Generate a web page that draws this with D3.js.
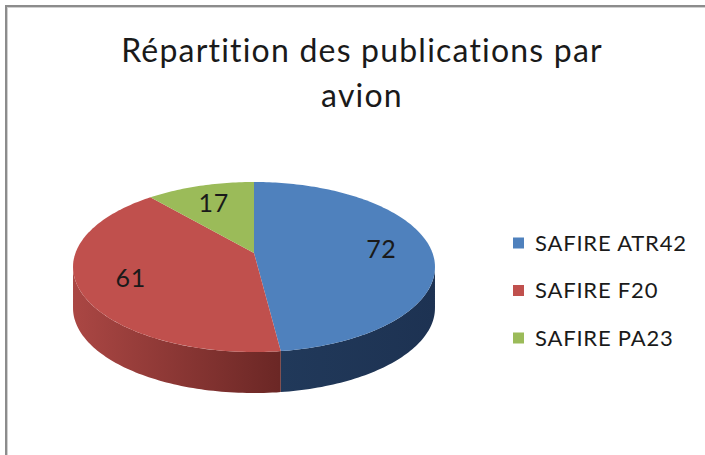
<!DOCTYPE html>
<html>
<head>
<meta charset="utf-8">
<script src="https://cdn.jsdelivr.net/npm/d3@7"></script>
<style>
  body { margin: 0; background: #fff; }
  text { font-family: Lato, "Open Sans", sans-serif; fill: #1a1a1a; }
</style>
</head>
<body>
<div id="chart"></div>
<script>
// data
var categories = ["SAFIRE ATR42", "SAFIRE F20", "SAFIRE PA23"];
var counts = [72, 61, 17];
var titleLines = ["Répartition des publications par", "avion"];

// excel 2007 palette
var topColors = ["#4f81bd", "#c0504d", "#9bbb59"];
var sideColors = [["#2c4a72", "#21395a", "#1d3252"], ["#ab4744", "#6b2725", "#5a201f"], ["#7d9a45", "#5a7030", "#4c5f28"]];

var width = 705, height = 455;

var svg = d3.select("#chart").append("svg")
  .attr("width", width)
  .attr("height", height);

// frame (only top and left edges show)
svg.append("line").attr("x1", 5).attr("x2", width).attr("y1", 6).attr("y2", 6)
  .attr("stroke", "#8c8c8c").attr("stroke-width", 2);
svg.append("line").attr("x1", 6).attr("x2", 6).attr("y1", 5).attr("y2", height)
  .attr("stroke", "#8c8c8c").attr("stroke-width", 2);
svg.append("line").attr("x1", 7).attr("x2", width).attr("y1", 7.5).attr("y2", 7.5)
  .attr("stroke", "#d0d0d0").attr("stroke-width", 1);
svg.append("line").attr("x1", 7.5).attr("x2", 7.5).attr("y1", 7).attr("y2", height)
  .attr("stroke", "#d0d0d0").attr("stroke-width", 1);

// title
svg.append("text")
  .attr("x", 362)
  .attr("text-anchor", "middle")
  .style("font-size", "32px")
  .style("letter-spacing", "1.2px")
  .selectAll("tspan")
  .data(titleLines)
  .enter().append("tspan")
  .attr("x", 362)
  .attr("y", function(d, i) { return 62 + i * 45; })
  .text(function(d) { return d; });

// pie geometry: a tilted disc seen in perspective
var cx = 254, cy = 253;     // where the slices meet
var sx = 178.5, sy = 82.7;  // projected radii
var k = 0.165;              // perspective strength
var depth = 41;

function project(a, r) {
  r = (r === undefined) ? 1 : r;
  var s = r * Math.sin(a), c = r * Math.cos(a);
  var w = 1 + k * c;
  return [cx + sx * s / w, cy - sy * c / w];
}

var pie = d3.pie().sort(null).value(function(d) { return d; });
var arcs = pie(counts);

var line = d3.line();

function rimPoints(a0, a1, dy) {
  var n = Math.max(2, Math.ceil((a1 - a0) / 0.02));
  var pts = [];
  for (var i = 0; i <= n; i++) {
    var p = project(a0 + (a1 - a0) * i / n);
    pts.push([p[0], p[1] + dy]);
  }
  return pts;
}

// horizontal shading for the sides
var defs = svg.append("defs");
sideColors.forEach(function(cols, i) {
  var g = defs.append("linearGradient")
    .attr("id", "side" + i)
    .attr("gradientUnits", "userSpaceOnUse")
    .attr("x1", cx - sx * 1.02).attr("x2", cx + sx * 1.02)
    .attr("y1", 0).attr("y2", 0);
  g.append("stop").attr("offset", 0).attr("stop-color", cols[0]);
  g.append("stop").attr("offset", 0.57).attr("stop-color", cols[1]);
  g.append("stop").attr("offset", 1).attr("stop-color", cols[2]);
});

// visible part of the rim runs from the right silhouette to the left one
var visStart = Math.acos(-k), visEnd = 2 * Math.PI - Math.acos(-k);

var sides = svg.append("g");
arcs.forEach(function(d, i) {
  var a0 = Math.max(d.startAngle, visStart), a1 = Math.min(d.endAngle, visEnd);
  if (a1 <= a0) return;
  var top = rimPoints(a0, a1, 0);
  var bottom = rimPoints(a0, a1, depth).reverse();
  sides.append("path")
    .attr("d", line(top.concat(bottom)) + "Z")
    .attr("fill", "url(#side" + i + ")");
});

// top faces
svg.append("g").selectAll("path")
  .data(arcs)
  .enter().append("path")
  .attr("d", function(d) {
    return line([[cx, cy]].concat(rimPoints(d.startAngle, d.endAngle, 0))) + "Z";
  })
  .attr("fill", function(d, i) { return topColors[i]; });

// value labels
svg.append("g").selectAll("text")
  .data(arcs)
  .enter().append("text")
  .attr("transform", function(d) {
    var p = project((d.startAngle + d.endAngle) / 2, 0.72);
    return "translate(" + p[0] + "," + p[1] + ")";
  })
  .attr("text-anchor", "middle")
  .attr("dy", "0.36em")
  .style("font-size", "25px")
  .style("letter-spacing", "0.6px")
  .text(function(d) { return d.data; });

// legend
var legend = svg.append("g").selectAll("g")
  .data(categories)
  .enter().append("g")
  .attr("transform", function(d, i) { return "translate(513," + (243 + i * 47.5) + ")"; });

legend.append("rect")
  .attr("x", 0).attr("y", -5.5)
  .attr("width", 11).attr("height", 11)
  .attr("fill", function(d, i) { return topColors[i]; });

legend.append("text")
  .attr("x", 22)
  .attr("dy", "0.36em")
  .style("font-size", "22px")
  .style("letter-spacing", "0.8px")
  .text(function(d) { return d; });
</script>
</body>
</html>
